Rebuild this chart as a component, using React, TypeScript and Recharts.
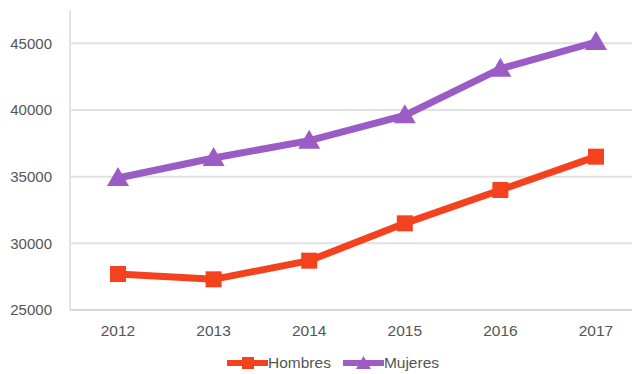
import { LineChart, Line, XAxis, YAxis, CartesianGrid, Legend } from "recharts";

const years = ["2012", "2013", "2014", "2015", "2016", "2017"];
const hombres = [27700, 27300, 28700, 31500, 34000, 36500];
const mujeres = [34900, 36400, 37700, 39600, 43100, 45100];
const yTicks = [25000, 30000, 35000, 40000, 45000];

const data = years.map((year, i) => ({
  year,
  Hombres: hombres[i],
  Mujeres: mujeres[i],
}));

const RED = "#f4411e";
const PURPLE = "#9b5cc6";
const FONT = "'Liberation Sans', Arial, sans-serif";

// square marker for Hombres
const SquareDot = (props: any) => {
  const { cx, cy, index } = props;
  if (cx == null || cy == null) return null;
  return <rect key={`sq-${index}`} x={cx - 8} y={cy - 8} width={16} height={16} fill={RED} />;
};

// triangle marker for Mujeres
const TriangleDot = (props: any) => {
  const { cx, cy, index } = props;
  if (cx == null || cy == null) return null;
  const pts = `${cx},${cy - 11} ${cx - 11},${cy + 8} ${cx + 11},${cy + 8}`;
  return <polygon key={`tr-${index}`} points={pts} fill={PURPLE} />;
};

const LegendContent = () => {
  const items = [
    { name: "Hombres", color: RED, shape: "square" },
    { name: "Mujeres", color: PURPLE, shape: "triangle" },
  ];
  return (
    <div
      style={{
        display: "flex",
        justifyContent: "flex-start",
        paddingLeft: 227,
        gap: 12,
        fontFamily: FONT,
        fontSize: 15.5,
        color: "#555",
        height: 24,
        alignItems: "center",
      }}
    >
      {items.map((it) => (
        <div key={it.name} style={{ display: "flex", alignItems: "center" }}>
          <svg width={41} height={14}>
            <line x1={0} y1={7} x2={41} y2={7} stroke={it.color} strokeWidth={6} />
            {it.shape === "square" ? (
              <rect x={15} y={1} width={12} height={12} fill={it.color} />
            ) : (
              <polygon points="20.5,0 13,13 28,13" fill={it.color} />
            )}
          </svg>
          <span>{it.name}</span>
        </div>
      ))}
    </div>
  );
};

export default function App() {
  return (
    <div style={{ position: "absolute", top: 0, left: 0, width: 632, height: 374, background: "#fff" }}>
      <LineChart width={632} height={374} data={data} margin={{ top: 10, right: 0, left: 0, bottom: 0 }}>
        <CartesianGrid vertical={false} horizontalValues={yTicks} stroke="#e2e2e2" strokeWidth={2} />
        <XAxis
          dataKey="year"
          padding={{ left: 48, right: 36 }}
          tickLine={false}
          axisLine={{ stroke: "#d6d6d6", strokeWidth: 2 }}
          tick={{ fill: "#555", fontSize: 15.5, fontFamily: FONT }}
          tickMargin={9}
          height={38}
        />
        <YAxis
          domain={[25000, 47500]}
          ticks={yTicks}
          allowDataOverflow
          tickLine={false}
          axisLine={{ stroke: "#e4e4e4", strokeWidth: 2 }}
          tick={{ fill: "#555", fontSize: 15, fontFamily: FONT }}
          tickMargin={12}
          width={70}
        />
        <Legend
          content={<LegendContent />}
          verticalAlign="bottom"
          height={26}
          wrapperStyle={{ top: 351, bottom: "auto", left: 0, width: 632 }}
        />
        <Line
          dataKey="Hombres"
          stroke={RED}
          strokeWidth={7}
          dot={<SquareDot />}
          activeDot={false}
          isAnimationActive={false}
        />
        <Line
          dataKey="Mujeres"
          stroke={PURPLE}
          strokeWidth={7}
          dot={<TriangleDot />}
          activeDot={false}
          isAnimationActive={false}
        />
      </LineChart>
    </div>
  );
}
